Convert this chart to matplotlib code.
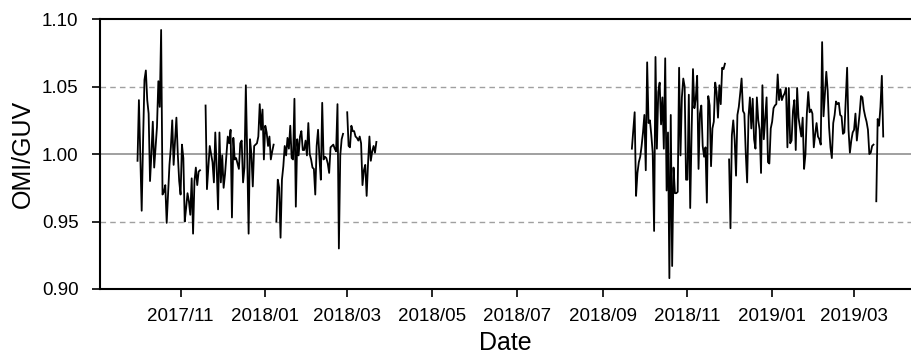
import numpy as np
import pandas as pd
import matplotlib
matplotlib.use("Agg")
import matplotlib.pyplot as plt
import matplotlib.dates as mdates

nan = np.nan

# first campaign, daily OMI/GUV ratio from 2017-10-01 (nan = no data)
start_a = "2017-10-01"
ratio_a = [
    0.995, 1.040, 1.000, 0.958, 1.010, 1.055, 1.062, 1.040, 1.030, 0.980,
    1.000, 1.024, 0.990, 1.005, 1.020, 1.054, 1.035, 1.092, 0.970, 0.972,
    0.977, 0.949, 0.970, 0.992, 1.005, 1.025, 0.992, 1.010, 1.027, 1.000,
    0.980, 0.970, 1.007, 0.997, 0.950, 0.960, 0.971, 0.965, 0.955, 0.982,
    0.941, 0.980, 0.990, 0.977, 0.987, 0.988,
    nan, nan, nan,
    1.036, 0.974, 0.990, 1.006, 1.000, 0.994, 0.979, 1.016, 0.990, 0.959,
    1.016, 0.979, 0.999, 0.975, 0.985, 0.999, 1.013, 1.008, 1.018, 0.953,
    1.012, 0.996, 0.997, 0.993, 0.989, 1.008, 1.010, 0.979, 0.990, 1.051,
    0.999, 0.941, 1.011, 1.000, 0.976, 1.006, 1.007, 1.008, 1.013, 1.037,
    1.018, 1.033, 0.996, 1.021, 1.016, 1.006, 1.013, 0.996, 1.002, 1.007,
    nan,
    0.950, 0.981, 0.975, 0.938, 0.981, 0.991, 1.006, 0.999, 1.012, 1.004,
    1.021, 0.997, 0.996, 1.041, 0.961, 1.011, 0.999, 1.013, 1.017, 1.003,
    1.003, 1.010, 0.999, 1.023, 1.000, 0.996, 0.990, 0.989, 0.970, 1.006,
    1.018, 0.997, 0.981, 1.038, 0.996, 0.998, 0.997, 0.993, 0.986, 1.005,
    1.006, 1.007, 1.004, 1.002, 1.037, 0.930, 0.999, 1.011, 1.015,
    nan, nan,
    1.031, 1.006, 1.005, 1.021, 1.017, 1.017, 1.013, 1.012, 1.010, 1.013,
    1.008, 0.977, 0.988, 0.992, 0.969, 0.993, 1.013, 0.995, 1.002, 1.006,
    1.001, 1.009,
]

# second campaign, daily OMI/GUV ratio from 2018-09-22
start_b = "2018-09-22"
ratio_b = [
    1.004, 1.018, 1.031, 0.969, 0.986, 0.994, 0.998, 1.006, 1.016, 1.029,
    0.988, 1.068, 1.023, 1.025, 1.014, 1.001, 0.943, 1.072, 1.004, 1.046,
    1.053, 1.022, 1.042, 1.004, 1.071, 0.973, 1.016, 0.908, 1.029, 0.917,
    0.990, 0.971, 0.971, 0.972, 1.064, 0.999, 1.042, 1.056, 1.050, 0.981,
    0.981, 1.044, 0.960, 1.016, 1.063, 1.034, 1.041, 1.058, 0.989, 1.030,
    1.036, 1.006, 0.998, 1.005, 0.964, 1.043, 1.036, 0.991, 1.019, 1.024,
    1.053, 1.046, 1.027, 1.051, 1.037, 1.064, 1.063, 1.067,
    nan, nan,
    0.996, 0.945, 1.014, 1.025, 1.011, 0.984, 1.029, 1.035, 1.045, 1.056,
    1.032, 1.030, 1.001, 0.979, 1.028, 1.042, 1.019, 1.041, 1.011, 1.004,
    1.042, 1.025, 1.018, 0.986, 1.051, 1.011, 1.026, 1.042, 0.994, 0.993,
    1.019, 1.024, 1.034, 1.036, 1.037, 1.059, 1.040, 1.048, 1.040, 1.043,
    1.045, 1.049, 1.005, 1.049, 1.008, 1.010, 1.032, 1.040, 1.003, 1.049,
    1.027, 1.020, 1.013, 1.027, 0.989, 1.000, 1.030, 1.046, 1.031, 1.033,
    1.030, 1.005, 1.015, 1.023, 1.013, 1.011, 1.007, 1.083, 1.028, 1.044,
    1.061, 1.047, 1.020, 1.005, 0.997, 1.023, 1.029, 1.039, 1.037, 1.038,
    1.029, 1.028, 1.015, 1.016, 1.040, 1.064, 1.018, 1.001, 1.010, 1.016,
    1.018, 1.030, 1.010, 1.020, 1.030, 1.043, 1.042, 1.033, 1.028, 1.024,
    1.018, 1.000, 1.001, 1.006, 1.007,
    nan,
    0.965, 1.026, 1.021, 1.035, 1.058, 1.013,
]

ref_lines = [0.95, 1.00, 1.05]
y_ticks = [0.90, 0.95, 1.00, 1.05, 1.10]

s_a = pd.Series(ratio_a, index=pd.date_range(start_a, periods=len(ratio_a), freq="D"))
s_b = pd.Series(ratio_b, index=pd.date_range(start_b, periods=len(ratio_b), freq="D"))
# gap between the two campaigns
s = pd.concat([s_a, pd.Series([nan], index=[s_a.index[-1] + pd.Timedelta(days=1)]), s_b])

plt.rcParams['font.family'] = ['Liberation Sans', 'DejaVu Sans']

fig = plt.figure(figsize=(9.11, 3.55), dpi=100)
ax = fig.add_axes([0.1098, 0.186, 0.8902, 0.760])

for v in ref_lines:
    if v == 1.00:
        ax.axhline(v, color='#a0a0a0', lw=1.4, zorder=1)
    else:
        ax.axhline(v, color='#a0a0a0', lw=1.0, ls=(0, (4, 3)), zorder=1)

ax.plot(s.index, s.values, color='black', lw=1.3, zorder=2)

ax.set_ylim(0.90, 1.10)
ax.set_yticks(y_ticks)
ax.yaxis.set_major_formatter(matplotlib.ticker.FormatStrFormatter('%.2f'))
ax.set_xlim(pd.Timestamp("2017-09-04"), pd.Timestamp("2019-04-11"))
ax.xaxis.set_major_locator(mdates.MonthLocator(bymonth=[1, 3, 5, 7, 9, 11]))
ax.xaxis.set_major_formatter(mdates.DateFormatter('%Y/%m'))

ax.spines['right'].set_visible(False)
for sp in ['left', 'bottom', 'top']:
    ax.spines[sp].set_linewidth(1.5)
ax.tick_params(axis='both', direction='out', length=6, width=1.2, labelsize=13.5)
ax.tick_params(axis='x', pad=7.5)
ax.tick_params(axis='y', pad=9.5)

ax.set_xlabel('Date', fontsize=18, labelpad=4.5)
ax.set_ylabel('OMI/GUV', fontsize=18, labelpad=5)

fig.savefig('out.png', dpi=100)
